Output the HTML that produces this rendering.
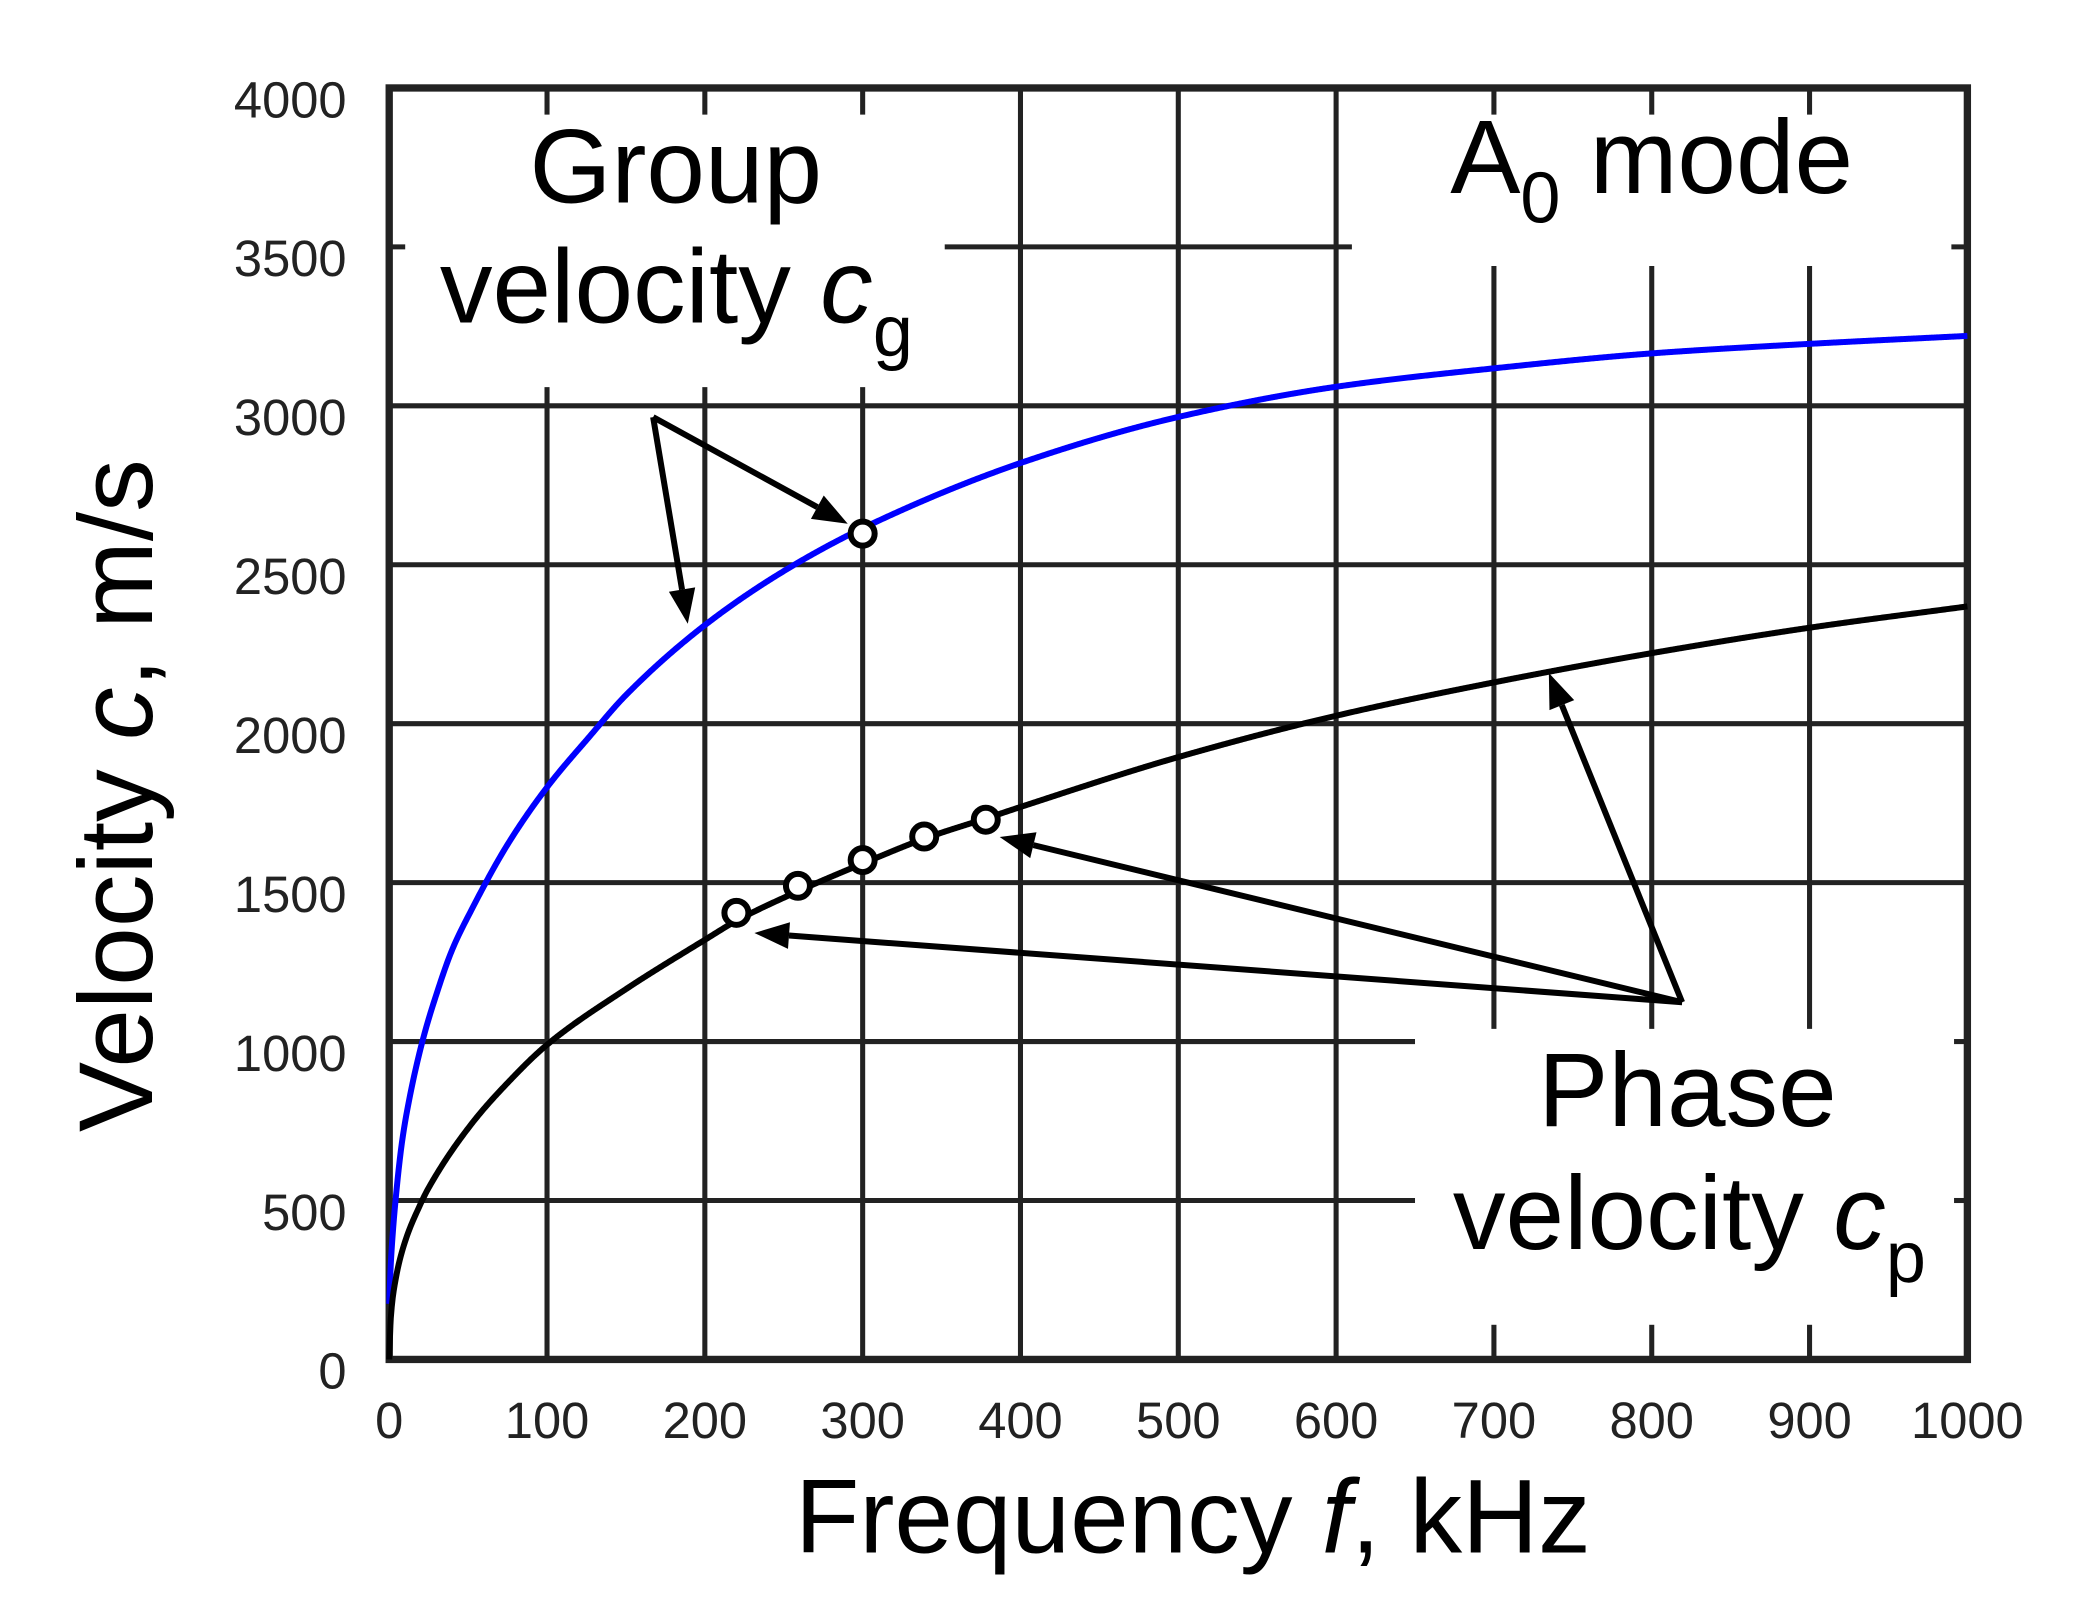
<!DOCTYPE html>
<html><head><meta charset="utf-8"><style>
html,body{margin:0;padding:0;background:#fff;}
svg{display:block;}
text{font-family:"Liberation Sans",Arial,sans-serif;}
</style></head><body>
<svg id="chart" width="2090" height="1618" viewBox="0 0 1568 1214" preserveAspectRatio="none" xmlns="http://www.w3.org/2000/svg">
<g id="grid"></g>
<g id="curves"></g>
<g id="ann"></g>
<g id="ticks"></g>
<text x="507" y="152" font-size="79" text-anchor="middle">Group</text>
<text x="330" y="242" font-size="79">velocity <tspan font-style="italic">c</tspan><tspan font-size="54" dy="25">g</tspan></text>
<text x="1088" y="145" font-size="79">A<tspan font-size="54" dy="22">0</tspan><tspan dy="-22"> mode</tspan></text>
<text x="1266" y="845" font-size="79" text-anchor="middle">Phase</text>
<text x="1090" y="937" font-size="79">velocity <tspan font-style="italic">c</tspan><tspan font-size="54" dy="25">p</tspan></text>
<text x="895" y="1165" font-size="79" text-anchor="middle">Frequency <tspan font-style="italic">f</tspan>, kHz</text>
<text transform="translate(114,597) rotate(-90)" font-size="79" text-anchor="middle">Velocity <tspan font-style="italic">c</tspan>, m/s</text>
</svg>
<script>
const xTicks=[0,100,200,300,400,500,600,700,800,900,1000];
const yTicks=[0,500,1000,1500,2000,2500,3000,3500,4000];
const groupF=[0,1,2,4,8,12,21,30,40,52,75,100,127,150,200,250,300,400,500,600,700,800,900,1000];
const groupV=[175,300,380,500,680,800,1000,1150,1290,1413,1620,1800,1960,2090,2310,2480,2615,2820,2965,3060,3118,3165,3195,3220];
const phaseF=[0,1,4,10,19,25,52,75,100,150,200,220,260,300,340,380,400,500,600,700,800,900,1000];
const phaseV=[0,130,250,370,480,540,740,870,990,1165,1320,1380,1475,1560,1640,1705,1738,1895,2025,2130,2222,2302,2369];
const phaseMarkF=[220,259,300,339,378];
const phaseMarkV=[1405,1490,1571,1645,1698];
const groupMarkF=[300];
const groupMarkV=[2598];
const X=f=>292+f*1.184;
const Y=v=>1020-v*0.2385;
const NS='http://www.w3.org/2000/svg';
function mk(parent,tag,attrs){const e=document.createElementNS(NS,tag);for(const k in attrs)e.setAttribute(k,attrs[k]);parent.appendChild(e);return e;}
const grid=document.getElementById('grid');
function seg(x1,y1,x2,y2,w){const l=mk(grid,'line',{x1:x1,y1:y1,x2:x2,y2:y2,stroke:'#222',"stroke-width":w||3.8});

}
[100,200,300].forEach(f=>{seg(X(f),Y(0),X(f),Y(3000)-14);seg(X(f),Y(4000),X(f),Y(4000)+20);});
[400,500,600].forEach(f=>{seg(X(f),Y(0),X(f),Y(4000));});
[700,800,900].forEach(f=>{seg(X(f),Y(3440),X(f),Y(1040));seg(X(f),Y(0),X(f),Y(0)-26);seg(X(f),Y(4000),X(f),Y(4000)+20);});
[500,1000].forEach(v=>{seg(X(0),Y(v),X(650),Y(v));seg(X(1000)-10,Y(v),X(1000),Y(v));});
[1500,2000,2500,3000].forEach(v=>{seg(X(0),Y(v),X(1000),Y(v));});
seg(X(352),Y(3500),X(610),Y(3500));seg(X(0),Y(3500),X(0)+12,Y(3500));seg(X(1000)-12,Y(3500),X(1000),Y(3500));
const frame=mk(grid,'rect',{x:X(0),y:Y(4000),width:X(1000)-X(0),height:Y(0)-Y(4000),fill:'none',stroke:'#222',"stroke-width":5.5});


const tk=document.getElementById('ticks');
xTicks.forEach(f=>{const t=mk(tk,'text',{x:X(f),y:1079,"font-size":38,"text-anchor":"middle",fill:'#222'});t.textContent=f;

});
yTicks.forEach(v=>{const t=mk(tk,'text',{x:260,y:Y(v)+22,"font-size":38,"text-anchor":"end",fill:'#222'});t.textContent=v;

});
function mono(F,V){const n=F.length,d=[],m=new Array(n);
for(let i=0;i<n-1;i++)d.push((V[i+1]-V[i])/(F[i+1]-F[i]));
m[0]=d[0];m[n-1]=d[n-2];
for(let i=1;i<n-1;i++){if(d[i-1]*d[i]<=0)m[i]=0;else{const w1=2*(F[i+1]-F[i])+(F[i]-F[i-1]),w2=(F[i+1]-F[i])+2*(F[i]-F[i-1]);m[i]=(w1+w2)/(w1/d[i-1]+w2/d[i]);}}
let pts=[];
for(let i=0;i<n-1;i++){const h=F[i+1]-F[i],steps=Math.max(4,Math.ceil(h*1.5));
for(let s=0;s<steps;s++){const t=s/steps,t2=t*t,t3=t2*t;
const v=(2*t3-3*t2+1)*V[i]+(t3-2*t2+t)*h*m[i]+(-2*t3+3*t2)*V[i+1]+(t3-t2)*h*m[i+1];
pts.push(X(F[i]+t*h).toFixed(2)+','+Y(v).toFixed(2));}}
pts.push(X(F[n-1])+','+Y(V[n-1]));return pts.join(' ');}
const cv=document.getElementById('curves');
const gc=mk(cv,'polyline',{points:mono(groupF,groupV),fill:'none',stroke:'#0000ff',"stroke-width":4.5,"stroke-linejoin":"round"});


const pc=mk(cv,'polyline',{points:mono(phaseF,phaseV),fill:'none',stroke:'#000',"stroke-width":4.5,"stroke-linejoin":"round"});


phaseMarkF.forEach((f,i)=>{const c=mk(cv,'circle',{cx:X(f),cy:Y(phaseMarkV[i]),r:9,fill:'#fff',stroke:'#000',"stroke-width":4.5});

});
groupMarkF.forEach((f,i)=>{const c=mk(cv,'circle',{cx:X(f),cy:Y(groupMarkV[i]),r:9,fill:'#fff',stroke:'#000',"stroke-width":4.5});

});
const an=document.getElementById('ann');
function arrow(x1,y1,x2,y2){const a=Math.atan2(y2-y1,x2-x1),L=26,W=10;
const bx=x2-L*Math.cos(a),by=y2-L*Math.sin(a);
const l=mk(an,'line',{x1:x1,y1:y1,x2:bx,y2:by,stroke:'#000',"stroke-width":4.5});


const h=mk(an,'polygon',{points:x2+','+y2+' '+(bx+W*Math.sin(a))+','+(by-W*Math.cos(a))+' '+(bx-W*Math.sin(a))+','+(by+W*Math.cos(a)),fill:'#000'});

}
arrow(490,313,636,393);arrow(490,313,516,468);
arrow(1262,752,1162,505);arrow(1262,752,750,628);arrow(1262,752,566,700);
</script>
</body></html>
